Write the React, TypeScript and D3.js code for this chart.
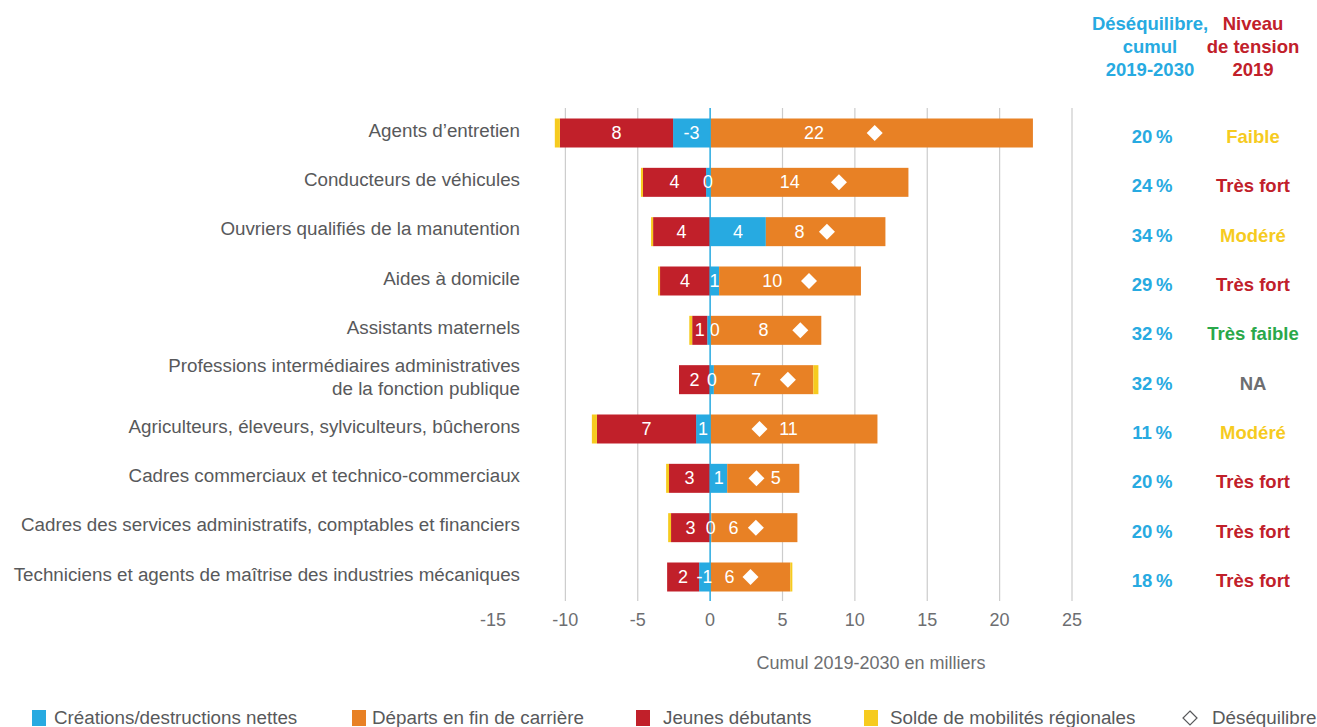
import React from "react";
import * as d3 from "d3";

const categories = [
  "Agents d’entretien",
  "Conducteurs de véhicules",
  "Ouvriers qualifiés de la manutention",
  "Aides à domicile",
  "Assistants maternels",
  "Professions intermédiaires administratives\nde la fonction publique",
  "Agriculteurs, éleveurs, sylviculteurs, bûcherons",
  "Cadres commerciaux et technico-commerciaux",
  "Cadres des services administratifs, comptables et financiers",
  "Techniciens et agents de maîtrise des industries mécaniques",
];

// values in thousands
const creations = [-2.56, -0.28, 3.85, 0.62, -0.2, 0.26, -0.97, 1.18, 0.08, -0.76];
const departs = [22.3, 13.7, 8.26, 9.8, 7.68, 6.87, 11.56, 4.98, 5.95, 5.54];
const debutants = [7.82, 4.36, 3.94, 3.46, 1.04, 2.15, 6.85, 2.84, 2.7, 2.21];
const mobilites = [-0.35, -0.14, -0.14, -0.14, -0.2, 0.35, -0.35, -0.2, -0.2, 0.14];
const desequilibre = [11.37, 8.9, 8.07, 6.83, 6.23, 5.37, 3.41, 3.2, 3.16, 2.79];

const creationsLabels = ["-3", "0", "4", "1", "0", "0", "1", "1", "0", "-1"];
const departsLabels = ["22", "14", "8", "10", "8", "7", "11", "5", "6", "6"];
const debutantsLabels = ["8", "4", "4", "4", "1", "2", "7", "3", "3", "2"];

const desequilibrePct = ["20", "24", "34", "29", "32", "32", "11", "20", "20", "18"];
const tension = ["Faible", "Très fort", "Modéré", "Très fort", "Très faible", "NA", "Modéré", "Très fort", "Très fort", "Très fort"];

const xTicks = [-15, -10, -5, 0, 5, 10, 15, 20, 25];
const gridTicks = [-10, -5, 5, 10, 15, 20, 25];

const legendItems = [
  { label: "Créations/destructions nettes", key: "blue" },
  { label: "Départs en fin de carrière", key: "orange" },
  { label: "Jeunes débutants", key: "red" },
  { label: "Solde de mobilités régionales", key: "yellow" },
  { label: "Déséquilibre", key: "diamond" },
];

const COLORS: Record<string, string> = {
  blue: "#27aae1",
  orange: "#e88125",
  red: "#c1202a",
  yellow: "#f6cb1f",
  green: "#2aa84a",
  gray: "#6d6e71",
};

const tensionColor: Record<string, string> = {
  "Faible": COLORS.yellow,
  "Modéré": COLORS.yellow,
  "Très fort": COLORS.red,
  "Très faible": COLORS.green,
  "NA": COLORS.gray,
};

const FONT = "'Liberation Sans', Arial, Helvetica, sans-serif";

export default function App() {
  const W = 1317;
  const H = 727;
  const x = d3.scaleLinear().domain([-15, 25]).range([493, 1072]);
  const y = d3.scalePoint<string>().domain(categories).range([133, 577]);
  const barH = 29;
  const gridTop = 108;
  const gridBottom = 601;
  const diamond = (s: number) => `M0,${-s} L${s},0 L0,${s} L${-s},0 Z`;

  const rows = categories.map((c, i) => {
    const cy = y(c) as number;
    const segs: { x0: number; x1: number; color: string }[] = [];
    let pos = 0;
    let neg = 0;
    const b = creations[i];
    let blue: { x0: number; x1: number };
    if (b >= 0) {
      blue = { x0: 0, x1: b };
      pos = b;
    } else {
      blue = { x0: b, x1: 0 };
      neg = b;
    }
    segs.push({ ...blue, color: COLORS.blue });
    const oStart = pos;
    segs.push({ x0: pos, x1: pos + departs[i], color: COLORS.orange });
    pos += departs[i];
    const oEnd = pos;
    const red = { x0: neg - debutants[i], x1: neg };
    segs.push({ ...red, color: COLORS.red });
    neg -= debutants[i];
    const m = mobilites[i];
    if (m >= 0) segs.push({ x0: pos, x1: pos + m, color: COLORS.yellow });
    else segs.push({ x0: neg + m, x1: neg, color: COLORS.yellow });

    const redLx = (x(red.x0) + x(red.x1)) / 2;
    let blueLx = (x(blue.x0) + x(blue.x1)) / 2;
    if (blueLx - redLx < 14) blueLx = redLx + 15;

    const d = desequilibre[i];
    const dx = x(d);
    const leftGapPx = dx - x(oStart);
    const rightGapPx = x(oEnd) - dx;
    const olx =
      leftGapPx >= rightGapPx
        ? dx - (8 + 0.32 * leftGapPx)
        : dx + Math.min(0.45 * rightGapPx, 29);
    return { c, cy, segs, olx, d, i, redLx, blueLx };
  });

  return (
    <svg
      width={W}
      height={H}
      style={{ position: "absolute", left: 0, top: 0, fontFamily: FONT }}
    >
      <rect x={0} y={0} width={W} height={H} fill="#fff" />

      <g fontWeight="bold" fontSize={18.5} textAnchor="middle">
        {["Déséquilibre,", "cumul", "2019-2030"].map((t, k) => (
          <text key={t} x={1150} y={29.5 + k * 23} fill={COLORS.blue}>{t}</text>
        ))}
        {["Niveau", "de tension", "2019"].map((t, k) => (
          <text key={t} x={1253} y={29.5 + k * 23} fill={COLORS.red}>{t}</text>
        ))}
      </g>

      {gridTicks.map((t) => (
        <line key={t} x1={x(t)} x2={x(t)} y1={gridTop} y2={gridBottom} stroke="#cccccc" strokeWidth={1.2} />
      ))}

      {rows.map((r) => (
        <g key={r.c}>
          {r.segs.map((s, k) => (
            <rect
              key={k}
              x={x(s.x0)}
              y={r.cy - barH / 2}
              width={Math.max(0, x(s.x1) - x(s.x0))}
              height={barH}
              fill={s.color}
            />
          ))}
        </g>
      ))}

      <line x1={x(0)} x2={x(0)} y1={gridTop} y2={gridBottom} stroke={COLORS.blue} strokeWidth={1.5} />

      {rows.map((r) => (
        <g key={r.c + "-lab"} fontSize={18} fill="#fff" textAnchor="middle">
          <text x={r.redLx} y={r.cy} dominantBaseline="central">{debutantsLabels[r.i]}</text>
          <text x={r.blueLx} y={r.cy} dominantBaseline="central">{creationsLabels[r.i]}</text>
          <text x={r.olx} y={r.cy} dominantBaseline="central">{departsLabels[r.i]}</text>
          <path d={diamond(8)} transform={`translate(${x(r.d)},${r.cy})`} fill="#fff" />
        </g>
      ))}

      {rows.map((r) => {
        const lines = r.c.split("\n");
        const lh = 22.7;
        const base = r.cy - 3 - ((lines.length - 1) * lh) / 2;
        return (
          <text key={r.c + "-cat"} x={520} textAnchor="end" fontSize={18.8} fill="#58595b">
            {lines.map((l, k) => (
              <tspan key={k} x={520} y={base + k * lh} dominantBaseline="central">{l}</tspan>
            ))}
          </text>
        );
      })}

      {rows.map((r) => (
        <g key={r.c + "-right"} fontWeight="bold" fontSize={18.5} textAnchor="middle">
          <text x={1152} y={r.cy + 3.5} dominantBaseline="central" fill={COLORS.blue}>
            {desequilibrePct[r.i] + "\u202F%"}
          </text>
          <text x={1253} y={r.cy + 3.5} dominantBaseline="central" fill={tensionColor[tension[r.i]]}>
            {tension[r.i]}
          </text>
        </g>
      ))}

      <g fontSize={18} fill="#6d6e71" textAnchor="middle">
        {xTicks.map((t) => (
          <text key={t} x={x(t)} y={620} dominantBaseline="central">{t}</text>
        ))}
        <text x={871} y={663} dominantBaseline="central">Cumul 2019-2030 en milliers</text>
      </g>

      <g fontSize={18.8} fill="#58595b">
        {legendItems.map((it, k) => {
          const positions = [32, 352, 636, 864, 1183];
          const textX = [54, 372, 663, 890, 1212];
          const lx = positions[k];
          return (
            <g key={it.key}>
              {it.key === "diamond" ? (
                <path
                  d={diamond(7)}
                  transform={`translate(${lx + 7},${718})`}
                  fill="#fff"
                  stroke="#58595b"
                  strokeWidth={1.2}
                />
              ) : (
                <rect x={lx} y={710} width={14} height={16} fill={COLORS[it.key]} />
              )}
              <text x={textX[k]} y={724}>{it.label}</text>
            </g>
          );
        })}
      </g>
    </svg>
  );
}
